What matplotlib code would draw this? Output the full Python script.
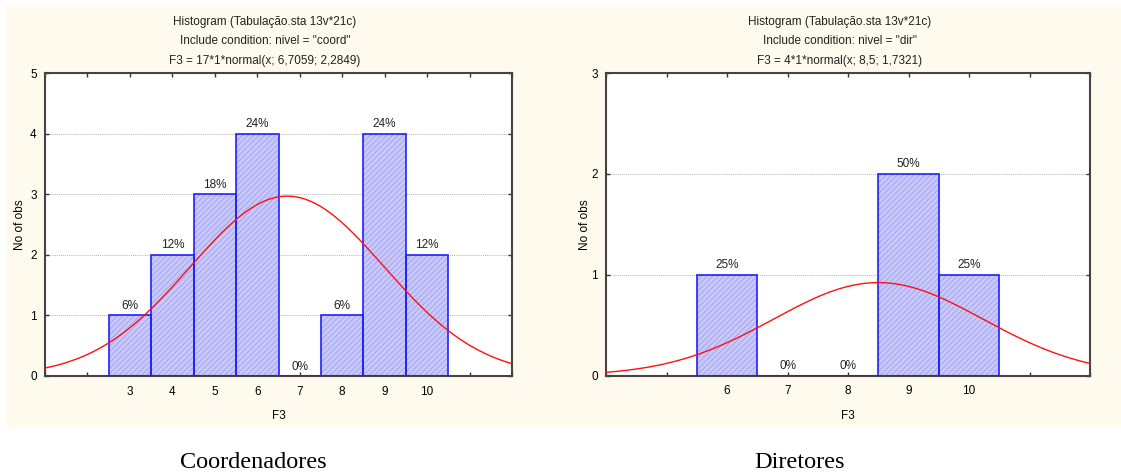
import numpy as np
import matplotlib.pyplot as plt

plt.rcParams['font.family'] = ['Liberation Sans', 'DejaVu Sans']
plt.rcParams['hatch.linewidth'] = 0.6

# coordenadores
coord_x = [3, 4, 5, 6, 7, 8, 9, 10]
coord_n = [1, 2, 3, 4, 0, 1, 4, 2]
# diretores
dir_x = [6, 7, 8, 9, 10]
dir_n = [1, 0, 0, 2, 1]

bg = '#fffaee'
fig = plt.figure(figsize=(11.21, 4.75), dpi=100)
fig.patch.set_facecolor('white')
fig.patches.append(plt.Rectangle((6 / 1121, 1 - 427 / 475), 1115 / 1121, 422 / 475,
                                 transform=fig.transFigure, facecolor=bg,
                                 edgecolor='none', zorder=-10))


def panel(rect, xs, ns, xlim, ymax, cond, caption, caption_x, title_x, ylab_x):
    ax = fig.add_axes(rect)
    xs = np.array(xs)
    ns = np.array(ns)
    n = ns.sum()
    vals = np.repeat(xs, ns)
    mu = vals.mean()
    sd = vals.std(ddof=1)

    ax.bar(xs, ns, width=1, facecolor='#c8c8fc', edgecolor='#a0a0ec',
           hatch='//////', linewidth=0, zorder=2)
    ax.bar(xs, ns, width=1, facecolor='none', edgecolor='#2020ff',
           linewidth=1.2, zorder=3)
    for x, c in zip(xs, ns):
        ax.annotate(f"{round(c / n * 100)}%", (x, c), xytext=(0, 2.5),
                    textcoords='offset points', ha='center', va='bottom',
                    fontsize=8.5, color='#222222', zorder=5)

    xx = np.linspace(xlim[0], xlim[1], 400)
    yy = n * 1 * np.exp(-0.5 * ((xx - mu) / sd) ** 2) / (sd * np.sqrt(2 * np.pi))
    ax.plot(xx, yy, color='#ff1010', linewidth=1.0, zorder=4, clip_on=False)

    ax.set_xlim(*xlim)
    ax.set_ylim(0, ymax)
    ticks = np.arange(xlim[0], xlim[1] + 1)
    ax.set_xticks(ticks)
    ax.set_xticklabels([str(int(t)) if t in xs else '' for t in ticks])
    ax.set_yticks(np.arange(0, ymax + 1))
    for y in range(1, ymax):
        ax.axhline(y, color='#b4b4b4', linestyle=(0, (1, 1)), linewidth=0.7, zorder=1)
    ax.tick_params(direction='in', length=3, width=1, color='#333333',
                   top=True, right=True, labelsize=8.5, pad=7)
    ax.tick_params(axis='y', pad=6)
    for s in ax.spines.values():
        s.set_color('#444444')
        s.set_linewidth(1.5)
    ax.set_xlabel('F3', fontsize=8.5, labelpad=9)
    fig.text(ylab_x / 1121, rect[1] + rect[3] / 2, 'No of obs', rotation=90,
             ha='center', va='center', fontsize=8.5)

    title = ["Histogram (Tabulação.sta 13v*21c)",
             f'Include condition: nivel = "{cond}"',
             f"F3 = {n}*1*normal(x; {mu:.5g}; {sd:.5g})".replace('.', ',')]
    for i, t in enumerate(title):
        fig.text(title_x / 1121, 1 - (22 + 19.5 * i) / 475, t, ha='center', va='center',
                 fontsize=8.5, color='#222222')
    fig.text(caption_x / 1121, 1 - 462 / 475, caption, ha='center', va='center',
             fontsize=17.5, family='Liberation Serif')
    return ax


panel([45 / 1121, 1 - 376 / 475, 467 / 1121, 303 / 475], coord_x, coord_n, (1, 12), 5,
      'coord', 'Coordenadores', 253, 265, 20)
panel([606 / 1121, 1 - 375.5 / 475, 484 / 1121, 302.5 / 475], dir_x, dir_n, (4, 12), 3,
      'dir', 'Diretores', 800, 840, 585)

fig.savefig('out.png', dpi=100, facecolor=fig.get_facecolor())
